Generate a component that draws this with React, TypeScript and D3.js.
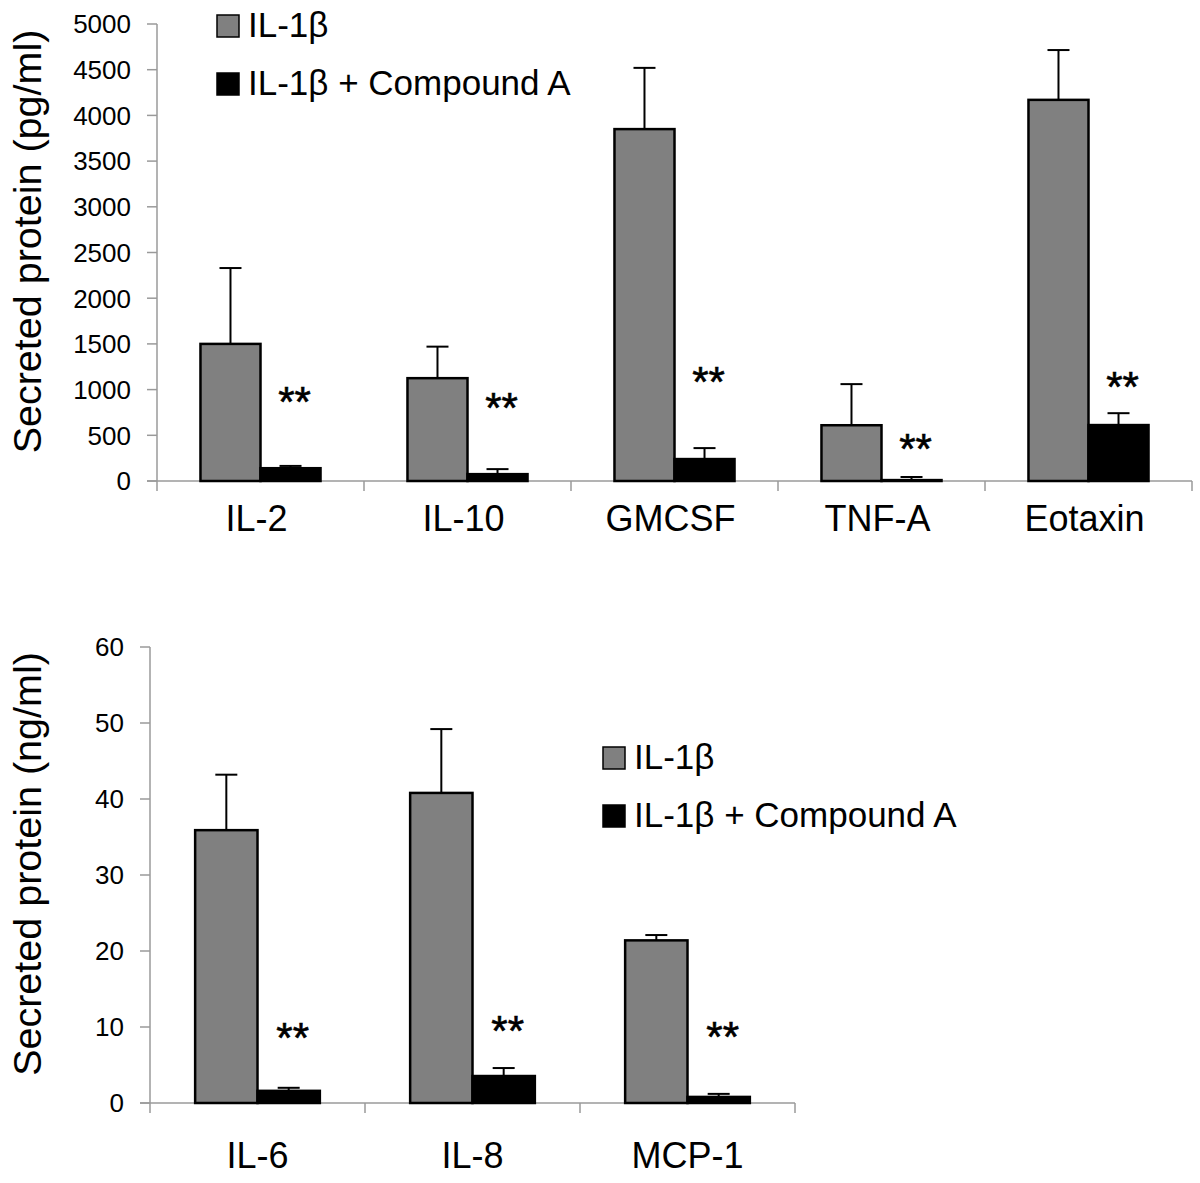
import React, { useEffect, useRef } from 'react'
import * as d3 from 'd3'

// top panel (pg/ml)
const topCategories = ['IL-2', 'IL-10', 'GMCSF', 'TNF-A', 'Eotaxin']
const topIL1b = [1500, 1125, 3850, 610, 4170]
const topIL1bErr = [830, 345, 670, 450, 545]
const topCompA = [140, 75, 240, 10, 612]
const topCompAErr = [25, 55, 120, 34, 130]
const topStars = [908, 853, 1127, 394, 1072]
const topTicks = d3.range(0, 5001, 500)

// bottom panel (ng/ml)
const botCategories = ['IL-6', 'IL-8', 'MCP-1']
const botIL1b = [35.9, 40.8, 21.4]
const botIL1bErr = [7.3, 8.4, 0.7]
const botCompA = [1.6, 3.55, 0.8]
const botCompAErr = [0.4, 1.05, 0.4]
const botStars = [9.2, 10.0, 9.3]
const botTicks = d3.range(0, 61, 10)

const seriesNames = ['IL-1\u03b2', 'IL-1\u03b2 + Compound A']
const seriesColors = ['#808080', '#000000']

const FONT = 'Liberation Sans, Arial, sans-serif'
const AXIS = '#9a9a9a'

type Panel = {
    cats: string[]
    a: number[]; aErr: number[]
    b: number[]; bErr: number[]
    stars: number[]
    ticks: number[]
    max: number
    x0: number; x1: number; y0: number; y1: number
    title: string
    legendX: number; legendY: number
    catLabelY: number; catLabelDx: number
}

const drawPanel = (g: d3.Selection<SVGGElement, unknown, null, undefined>, p: Panel) => {
    const y = d3.scaleLinear().domain([0, p.max]).range([p.y0, p.y1])
    const x = d3.scaleBand().domain(p.cats).range([p.x0, p.x1])
    const barW = x.bandwidth() * 0.29

    // y axis
    g.append('line').attr('x1', p.x0).attr('x2', p.x0).attr('y1', p.y1).attr('y2', p.y0 + 10)
        .attr('stroke', AXIS).attr('stroke-width', 1.5)
    g.selectAll('.ytick').data(p.ticks).enter().append('line')
        .attr('x1', p.x0 - 10).attr('x2', p.x0).attr('y1', d => y(d)).attr('y2', d => y(d))
        .attr('stroke', AXIS).attr('stroke-width', 1.5)
    g.selectAll('.ylab').data(p.ticks).enter().append('text')
        .attr('x', p.x0 - 26).attr('y', d => y(d)).attr('dy', '0.36em')
        .attr('text-anchor', 'end').style('font-family', FONT).style('font-size', '26px')
        .text(d => d)

    // x axis
    g.append('line').attr('x1', p.x0 - 10).attr('x2', p.x1).attr('y1', p.y0).attr('y2', p.y0)
        .attr('stroke', AXIS).attr('stroke-width', 1.5)
    const bounds = p.cats.map(c => x(c)!).concat([p.x1]).slice(1)
    g.selectAll('.xtick').data(bounds).enter().append('line')
        .attr('x1', d => d).attr('x2', d => d).attr('y1', p.y0).attr('y2', p.y0 + 10)
        .attr('stroke', AXIS).attr('stroke-width', 1.5)
    g.selectAll('.xlab').data(p.cats).enter().append('text')
        .attr('x', d => x(d)! + x.bandwidth() / 2 + p.catLabelDx).attr('y', p.catLabelY)
        .attr('text-anchor', 'middle').style('font-family', FONT).style('font-size', '36px')
        .text(d => d)

    const series = [
        { vals: p.a, errs: p.aErr, color: seriesColors[0], off: -barW },
        { vals: p.b, errs: p.bErr, color: seriesColors[1], off: 0 },
    ]
    series.forEach(s => {
        p.cats.forEach((c, i) => {
            const cx = x(c)! + x.bandwidth() / 2 + s.off
            const top = y(s.vals[i])
            const errTop = y(s.vals[i] + s.errs[i])
            g.append('line').attr('x1', cx + barW / 2).attr('x2', cx + barW / 2)
                .attr('y1', top).attr('y2', errTop).attr('stroke', '#000').attr('stroke-width', 2)
            g.append('line').attr('x1', cx + barW / 2 - 11).attr('x2', cx + barW / 2 + 11)
                .attr('y1', errTop).attr('y2', errTop).attr('stroke', '#000').attr('stroke-width', 2)
            g.append('rect').attr('x', cx).attr('y', top).attr('width', barW)
                .attr('height', Math.max(0, p.y0 - top))
                .attr('fill', s.color).attr('stroke', '#000').attr('stroke-width', 2.5)
        })
    })

    // significance stars (value = visual centre of the glyphs)
    g.selectAll('.star').data(p.stars).enter().append('text')
        .attr('x', (d, i) => x(p.cats[i])! + x.bandwidth() / 2 + barW / 2 + 4)
        .attr('y', d => y(d)).attr('dy', '0.44em').attr('text-anchor', 'middle')
        .style('font-family', FONT).style('font-size', '42px')
        .style('stroke', '#000').style('stroke-width', 0.6)
        .text('**')

    // y title
    g.append('text')
        .attr('transform', `translate(41,${(p.y0 + p.y1) / 2 - 11}) rotate(-90)`)
        .attr('text-anchor', 'middle').style('font-family', FONT).style('font-size', '39.5px')
        .text(p.title)

    // legend
    seriesNames.forEach((n, i) => {
        const ly = p.legendY + i * 58
        g.append('rect').attr('x', p.legendX).attr('y', ly).attr('width', 22).attr('height', 22)
            .attr('fill', seriesColors[i]).attr('stroke', '#000').attr('stroke-width', 1.5)
        g.append('text').attr('x', p.legendX + 31).attr('y', ly + 22)
            .style('font-family', FONT).style('font-size', '35px').text(n)
    })
}

export default function App() {
    const svgRef = useRef<SVGSVGElement>(null)

    useEffect(() => {
        if (!svgRef.current) return
        const svg = d3.select(svgRef.current)
        svg.selectAll('*').remove()
        const g = svg.append('g')

        drawPanel(g, {
            cats: topCategories, a: topIL1b, aErr: topIL1bErr, b: topCompA, bErr: topCompAErr,
            stars: topStars, ticks: topTicks, max: 5000,
            x0: 157, x1: 1192, y0: 481, y1: 24,
            title: 'Secreted protein (pg/ml)',
            legendX: 217, legendY: 15, catLabelY: 531, catLabelDx: -4,
        })
        drawPanel(g, {
            cats: botCategories, a: botIL1b, aErr: botIL1bErr, b: botCompA, bErr: botCompAErr,
            stars: botStars, ticks: botTicks, max: 60,
            x0: 150, x1: 795, y0: 1103, y1: 647,
            title: 'Secreted protein (ng/ml)',
            legendX: 603, legendY: 747, catLabelY: 1168, catLabelDx: 0,
        })
    }, [])

    return (
        <div style={{ position: 'absolute', left: 0, top: 0, background: '#fff' }}>
            <svg ref={svgRef} width={1200} height={1183} viewBox="0 0 1200 1183" />
        </div>
    )
}
